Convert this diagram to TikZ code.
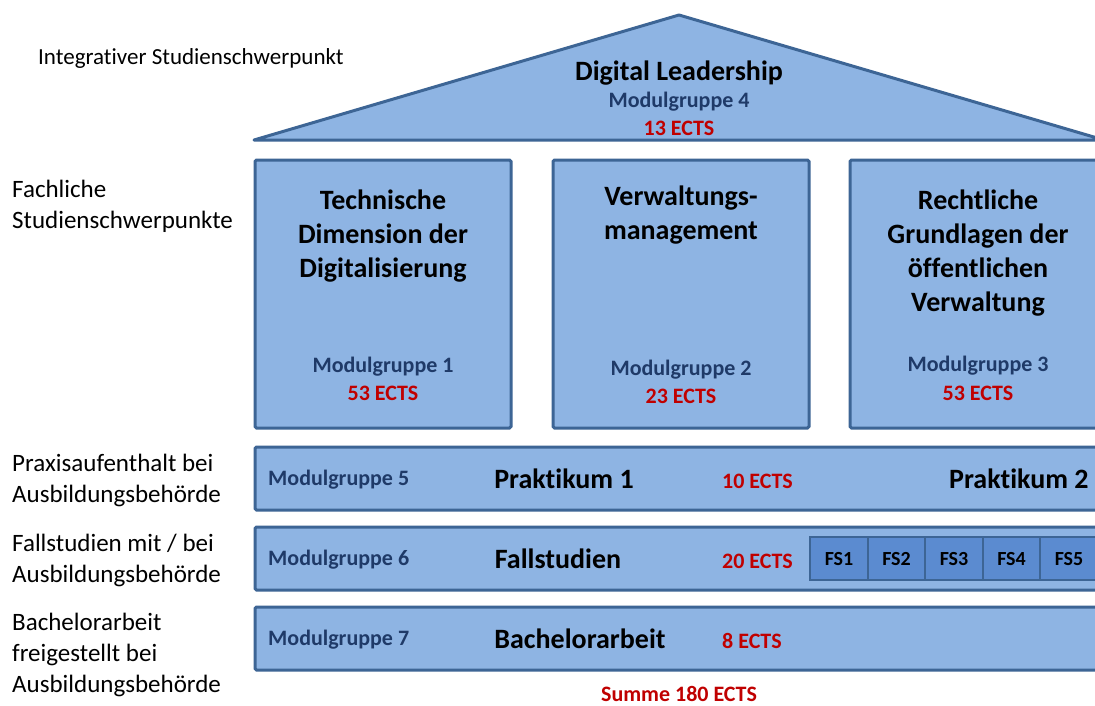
\documentclass[tikz,border=0pt]{standalone}
\usepackage{fontspec}
\setmainfont{Carlito}[Ligatures={NoCommon}]
\definecolor{fillblue}{HTML}{8EB4E3}
\definecolor{edgeblue}{HTML}{3D6595}
\definecolor{fsblue}{HTML}{5B8BD0}
\definecolor{mgblue}{HTML}{1F3A68}
\definecolor{ectsred}{HTML}{C00000}
\tikzset{
  blk/.style={draw=edgeblue, fill=fillblue, line width=3pt, rounded corners=1.5pt, inner sep=0pt},
  fsbox/.style={draw=edgeblue, fill=fsblue, line width=2pt, inner sep=0pt, minimum width=57.5pt, minimum height=43pt, font=\bfseries\fontsize{20}{24}\selectfont},
  ttl/.style={font=\bfseries\fontsize{28}{34}\selectfont, align=center, text=black, inner sep=0pt},
  mg/.style={font=\bfseries\fontsize{22}{26}\selectfont, text=mgblue, align=center, inner sep=0pt},
  ects/.style={font=\bfseries\fontsize{22}{26}\selectfont, text=ectsred, inner sep=0pt},
  side/.style={font=\fontsize{25}{31}\selectfont, align=left, anchor=west, text=black, inner sep=0pt},
}
\begin{document}
\begin{tikzpicture}[x=1pt,y=-1pt]
\useasboundingbox (0,0) rectangle (1095,705);
\clip (0,0) rectangle (1095,705);
\fill[white] (0,0) rectangle (1095,705);
% roof
\coordinate (apex) at (679,15);
\coordinate (bl) at (254,140);
\coordinate (br) at (1104,140);
\draw[edgeblue, fill=fillblue, line width=3pt, line join=round] (bl) -- (apex) -- (br) -- cycle;
\node[ttl] (dl) at (679,73) {Digital Leadership};
\node[mg] (mg4) at (679,102) {Modulgruppe 4};
\node[ects] (e4) at (679,128) {13 ECTS};
% columns
\node[blk, minimum width=256pt, minimum height=268pt] (c1) at (383,294) {};
\node[blk, minimum width=256pt, minimum height=268pt] (c2) at (681,294) {};
\node[blk, minimum width=256pt, minimum height=268pt] (c3) at (978,294) {};
\node[ttl] (t1) at (383,236) {Technische\\Dimension der\\Digitalisierung};
\node[ttl] (t2) at (681,215) {Verwaltungs-\\management};
\node[ttl] (t3) at (978,253) {Rechtliche\\Grundlagen der\\öffentlichen\\Verwaltung};
\node[mg] (mg1) at (383,367) {Modulgruppe 1};
\node[ects] (e1) at (383,393) {53 ECTS};
\node[mg] (mg2) at (681,370) {Modulgruppe 2};
\node[ects] (e2) at (681,396) {23 ECTS};
\node[mg] (mg3) at (978,366) {Modulgruppe 3};
\node[ects] (e3) at (978,393) {53 ECTS};
% bars
\node[blk, minimum width=852pt, minimum height=63pt] (r1) at (681,478.5) {};
\node[blk, minimum width=852pt, minimum height=63pt] (r2) at (681,558.5) {};
\node[blk, minimum width=852pt, minimum height=63pt] (r3) at (681,638.5) {};
\node[mg, anchor=west] (mg5) at (268,480) {Modulgruppe 5};
\node[mg, anchor=west] (mg6) at (268,560) {Modulgruppe 6};
\node[mg, anchor=west] (mg7) at (268,640) {Modulgruppe 7};
\node[ttl] (p1) at (564,479) {Praktikum 1};
\node[ects, anchor=west] (e5) at (722,481) {10 ECTS};
\node[ttl, anchor=west] (p2) at (949,479) {Praktikum 2};
\node[ttl] (fs) at (558,559) {Fallstudien};
\node[ects, anchor=west] (e6) at (722,561) {20 ECTS};
\node[ttl] (ba) at (580,639) {Bachelorarbeit};
\node[ects, anchor=west] (e7) at (722,641) {8 ECTS};
% FS boxes
\node[fsbox] (fs1) at (839,558.5) {FS1};
\node[fsbox] (fs2) at (896.5,558.5) {FS2};
\node[fsbox] (fs3) at (954,558.5) {FS3};
\node[fsbox] (fs4) at (1011.5,558.5) {FS4};
\node[fsbox] (fs5) at (1069,558.5) {FS5};
\node[ects] (sum) at (679,694) {Summe 180 ECTS};
% side labels
\node[side, font=\fontsize{23}{31}\selectfont] (s1) at (38,58) {Integrativer Studienschwerpunkt};
\node[side] (s2) at (12,206) {Fachliche\\Studienschwerpunkte};
\node[side] (s3) at (12,480) {Praxisaufenthalt bei\\Ausbildungsbehörde};
\node[side] (s4) at (12,560) {Fallstudien mit / bei\\Ausbildungsbehörde};
\node[side] (s5) at (12,655) {Bachelorarbeit\\freigestellt bei\\Ausbildungsbehörde};
\end{tikzpicture}
\end{document}
